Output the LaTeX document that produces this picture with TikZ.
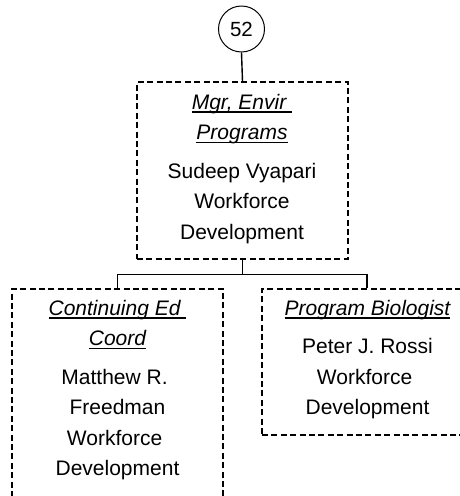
\documentclass[tikz,border=0pt]{standalone}
\usepackage{fontspec}
\setmainfont{Liberation Sans}
\newcommand{\ulit}[1]{\setbox0=\hbox{\itshape #1}\rlap{\rule[-3.7pt]{\wd0}{1.9pt}}\box0}
\newcommand{\firststrut}{\rule{0pt}{16pt}}
\begin{document}
\begin{tikzpicture}[x=1pt,y=-1pt,
  box/.style={draw, rectangle, inner sep=0pt, line width=1.4pt, dash pattern=on 6pt off 3.4pt},
  txt/.style={align=center, anchor=north, inner sep=0pt, font=\fontsize{21}{30.5}\selectfont},
  conn/.style={draw, line width=1.4pt},
  num/.style={draw, circle, inner sep=0pt, minimum size=46pt, line width=1pt, font=\fontsize{20.5}{24}\selectfont}]
\path[use as bounding box] (0,0) rectangle (460,496);
\clip (0,0) rectangle (460,496);
\node[num] (n52) at (241.5,29) {52};
\node[box, minimum width=211pt, minimum height=177pt] (top) at (242.5,170.5) {};
\node[box, minimum width=211pt, minimum height=222pt] (left) at (117.5,400) {};
\node[box, minimum width=210pt, minimum height=146pt] (right) at (367,362) {};
\node[txt] (toptext) at (242,93) {\firststrut\ulit{Mgr, Envir\ }\\ \ulit{Programs}\\[8pt]
  Sudeep Vyapari\\ Workforce\\ Development};
\node[txt] (lefttext) at (117.5,299) {\firststrut\ulit{Continuing Ed\ }\\ \ulit{Coord}\\[8pt]
  Matthew R.\kern0.28em\\ Freedman\\ Workforce\kern0.28em\\ Development};
\node[txt] (righttext) at (367.5,299) {\firststrut\ulit{Program Biologist}\\[8pt]
  Peter J. Rossi\\ Workforce\kern0.28em\\ Development};
\draw[conn] (n52.south) -- (top.north);
\draw[conn] (top.south) -- ++(0,15) coordinate (j) -| (left.north);
\draw[conn] (j) -| (right.north);
\end{tikzpicture}
\end{document}
